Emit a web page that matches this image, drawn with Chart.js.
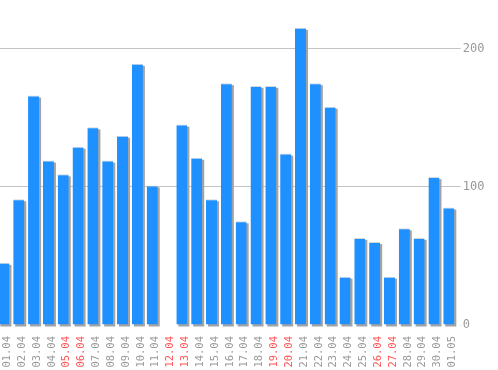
<!DOCTYPE html>
<html>
<head>
<meta charset="utf-8">
<script src="https://cdn.jsdelivr.net/npm/chart.js@4"></script>
<style>
  html, body { margin: 0; padding: 0; background: #fff; }
  #wrap { width: 498px; height: 370px; }
</style>
</head>
<body>
<div id="wrap"><canvas id="grafico"></canvas></div>
<script>
// Datos del gráfico
const dias = ['01.04', '02.04', '03.04', '04.04', '05.04', '06.04', '07.04', '08.04', '09.04', '10.04',
    '11.04', '12.04', '13.04', '14.04', '15.04', '16.04', '17.04', '18.04', '19.04', '20.04',
    '21.04', '22.04', '23.04', '24.04', '25.04', '26.04', '27.04', '28.04', '29.04', '30.04', '01.05'];
const valores = [45, 91, 166, 119, 109, 129, 143, 119, 137, 189,
    101, 0, 145, 121, 91, 175, 75, 173, 173, 124,
    215, 175, 158, 35, 63, 60, 35, 70, 63, 107, 85];
const diasRojos = ['05.04', '06.04', '12.04', '13.04', '19.04', '20.04', '26.04', '27.04'];
const ticksY = [0, 100, 200];

const fuenteX = { family: 'DejaVu Sans Mono', size: 10.5 };
const fuenteY = { family: 'DejaVu Sans Mono', size: 12 };

// Sombra gris detrás de cada barra, y barras algo desplazadas a la izquierda
const sombraBarras = {
    id: 'sombraBarras',
    beforeDatasetsDraw(chart) {
        const ctx = chart.ctx;
        ctx.save();
        ctx.translate(-3.5, 0);
        ctx.fillStyle = '#a3a3a3';
        chart.getDatasetMeta(0).data.forEach(bar => {
            const p = bar.getProps(['x', 'y', 'base', 'width'], true);
            if (p.base - p.y < 1) return;
            ctx.fillRect(p.x - p.width / 2 + 2, p.y + 2, p.width, p.base - p.y);
        });
    },
    afterDatasetsDraw(chart) {
        chart.ctx.restore();
    }
};

const ctx = document.getElementById('grafico').getContext('2d');
new Chart(ctx, {
    type: 'bar',
    data: {
        labels: dias,
        datasets: [{
            data: valores,
            backgroundColor: '#1e90ff',
            borderColor: '#d6d6d6',
            borderWidth: { top: 1, left: 0, right: 0, bottom: 0 },
            borderSkipped: false,
            categoryPercentage: 1,
            barPercentage: 0.745,
            clip: false
        }]
    },
    options: {
        responsive: true,
        maintainAspectRatio: false,
        animation: false,
        layout: { padding: { left: 0, right: 0, top: 0, bottom: 3 } },
        plugins: {
            legend: { display: false },
            tooltip: { enabled: false }
        },
        scales: {
            x: {
                grid: { display: false },
                border: { display: false },
                afterFit: axis => { axis.height = 42; },
                ticks: {
                    autoSkip: false,
                    minRotation: 90,
                    maxRotation: 90,
                    padding: 3,
                    font: fuenteX,
                    color: c => diasRojos.includes(dias[c.index]) ? '#ff5555' : '#999999'
                }
            },
            y: {
                position: 'right',
                min: 0,
                max: 228.5,
                border: { display: false },
                afterFit: axis => { axis.width = 38.3; },
                grid: {
                    color: c => c.tick && c.tick.value === 0 ? 'rgba(0,0,0,0)' : '#c4c4c4',
                    tickColor: '#c4c4c4',
                    tickLength: 1
                },
                afterBuildTicks: axis => { axis.ticks = ticksY.map(v => ({ value: v })); },
                ticks: {
                    padding: 2,
                    font: fuenteY,
                    color: '#999999'
                }
            }
        }
    },
    plugins: [sombraBarras]
});
</script>
</body>
</html>
